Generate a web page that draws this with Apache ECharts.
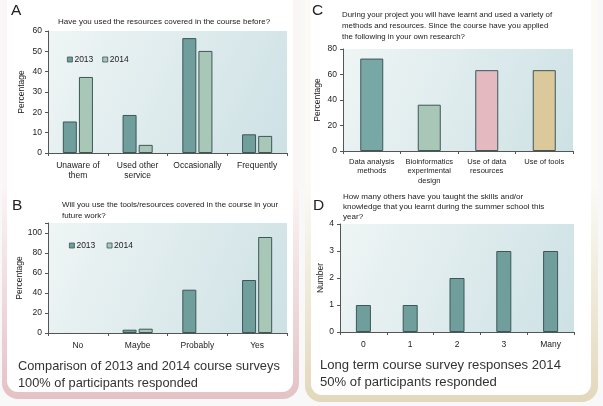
<!DOCTYPE html>
<html>
<head>
<meta charset="utf-8">
<script src="https://cdn.jsdelivr.net/npm/echarts@6/dist/echarts.min.js"></script>
<style>
html,body{margin:0;padding:0;background:#f8f8f8;}
#c{width:603px;height:406px;}
</style>
</head>
<body>
<div id="c"></div>
<script>
// Panel A
const catsA = ['Unaware of\nthem', 'Used other\nservice', 'Occasionally', 'Frequently'];
const a2013 = [15.5, 18.7, 56.5, 9.2];
const a2014 = [37.4, 4.0, 50.2, 8.4];
const ticksA = [0, 10, 20, 30, 40, 50, 60];
// Panel B
const catsB = ['No', 'Maybe', 'Probably', 'Yes'];
const b2013 = [0, 3.3, 43.3, 53];
const b2014 = [0, 4.3, 0, 96];
const ticksB = [0, 20, 40, 60, 80, 100];
// Panel C
const catsC = ['Data analysis\nmethods', 'Bioinformatics\nexperimental\ndesign', 'Use of data\nresources', 'Use of tools'];
const valsC = [72.5, 36.3, 63.4, 63.4];
const ticksC = [0, 20, 40, 60, 80];
// Panel D
const catsD = ['0', '1', '2', '3', 'Many'];
const valsD = [1, 1, 2, 3, 3];
const ticksD = [0, 1, 2, 3, 4];
const seriesNames = ['2013', '2014'];

const FONT = '"Liberation Sans", Arial, sans-serif';
const C13 = '#6f9e9c', C14 = '#a9c7b7', BORDER = '#3c5757';
const colorsC = ['#78a8a6', '#a9c7b7', '#e4b9c0', '#dcc99b'];

const bg = {type: 'linear', x: 0, y: 0, x2: 1, y2: 1, colorStops: [
  {offset: 0, color: '#eff5f5'}, {offset: 1, color: '#cde1e5'}]};

function grid(l, t, w, h) {
  return {left: l, top: t, width: w, height: h, show: true, borderWidth: 0, backgroundColor: bg, containLabel: false};
}
function xAx(gi, cats, fs, margin) {
  return {type: 'category', gridIndex: gi, data: cats,
    axisLine: {lineStyle: {color: '#555', width: 1}},
    axisTick: {show: true, alignWithLabel: false, length: 3, lineStyle: {color: '#555'}},
    axisLabel: {color: '#222', fontSize: fs, fontFamily: FONT, margin: margin, lineHeight: fs + 2, interval: 0}};
}
function yAx(gi, ticks, max, name, gap) {
  const interval = ticks[1] - ticks[0];
  return {type: 'value', gridIndex: gi, min: ticks[0], max: max, interval: interval,
    name: name, nameLocation: 'middle', nameGap: gap, nameRotate: 90,
    nameTextStyle: {color: '#222', fontSize: 8.5, fontFamily: FONT},
    splitLine: {show: false},
    axisLine: {show: true, lineStyle: {color: '#555', width: 1}},
    axisTick: {show: true, length: 3, lineStyle: {color: '#555'}},
    axisLabel: {color: '#222', fontSize: 8.5, fontFamily: FONT, margin: 6,
      formatter: v => (ticks.indexOf(v) >= 0 ? String(v) : '')}};
}
function bar(name, xi, data, color, width, gap) {
  return {type: 'bar', name: name, xAxisIndex: xi, yAxisIndex: xi,
    data: data.map(v => ({value: v, itemStyle: {borderWidth: v > 0 ? 1 : 0}})),
    barWidth: width, barGap: gap,
    itemStyle: {color: color, borderColor: BORDER, borderWidth: 1}};
}
function txt(x, y, s, fs, lh) {
  return {type: 'text', left: x, top: y, silent: true,
    style: {text: s, fontSize: fs, fontFamily: FONT, fill: '#222', lineHeight: lh || (fs + 3)}};
}
function panelGrad(top, bottom) {
  return {type: 'linear', x: 0, y: 0, x2: 0, y2: 1, colorStops: [
    {offset: 0, color: top}, {offset: 0.5, color: top}, {offset: 1, color: bottom}]};
}
function legendAt(names, l, t) {
  return {data: names, left: l, top: t, orient: 'horizontal', itemWidth: 5, itemHeight: 5, itemGap: 9,
    icon: 'rect', itemStyle: {borderColor: '#3c5757', borderWidth: 0.8},
    textStyle: {fontSize: 8.5, color: '#222', padding: [0, 0, 0, -3]}, selectedMode: false};
}

const chart = echarts.init(document.getElementById('c'), null, {renderer: 'canvas'});
chart.setOption({
  animation: false,
  backgroundColor: '#f8f8f8',
  textStyle: {fontFamily: FONT},
  graphic: [
    {type: 'rect', z: -10, shape: {x: 2, y: -30, width: 297, height: 429, r: 16},
      style: {fill: panelGrad('#fbf5f5', '#e4c2c6')}},
    {type: 'rect', z: -9, shape: {x: 7, y: -30, width: 286, height: 422, r: 11}, style: {fill: '#ffffff'}},
    {type: 'rect', z: -10, shape: {x: 305, y: -30, width: 293, height: 432, r: 16},
      style: {fill: panelGrad('#fbfaf5', '#e2d8bb')}},
    {type: 'rect', z: -9, shape: {x: 311, y: -30, width: 280, height: 425, r: 11}, style: {fill: '#ffffff'}},
    txt(11, 1, 'A', 15.5),
    txt(12, 196, 'B', 15.5),
    txt(312, 1, 'C', 15.5),
    txt(313, 196, 'D', 15.5),
    txt(58, 16, 'Have you used the resources covered in the course before?', 8),
    txt(62, 199, 'Will you use the tools/resources covered in the course in your\nfuture work?', 7.95, 11),
    txt(342, 10, 'During your project you will have learnt and used a variety of\nmethods and resources. Since the course have you applied\nthe following in your own research?', 7.85, 10.6),
    txt(343, 192, 'How many others have you taught the skills and/or\nknowledge that you learnt during the summer school this\nyear?', 8.05, 9.8),
    {type: 'text', left: 18, top: 358, silent: true,
      style: {text: 'Comparison of 2013 and 2014 course surveys\n100% of participants responded', fontSize: 12.8, fontFamily: FONT, fill: '#333', lineHeight: 17}},
    {type: 'text', left: 320, top: 357, silent: true,
      style: {text: 'Long term course survey responses 2014\n50% of participants responded', fontSize: 13.1, fontFamily: FONT, fill: '#333', lineHeight: 17}}
  ],
  legend: [
    legendAt(seriesNames, 62, 50),
    legendAt([seriesNames[0] + ' ', seriesNames[1] + ' '], 64, 236)
  ],
  grid: [grid(48, 31, 239, 122), grid(48, 223, 239, 110), grid(343, 49, 230, 102), grid(340, 224, 234, 108)],
  xAxis: [xAx(0, catsA, 8.5, 7), xAx(1, catsB, 8.5, 7), xAx(2, catsC, 7.6, 6), xAx(3, catsD, 8.5, 7)],
  yAxis: [yAx(0, ticksA, 60, 'Percentage', 22), yAx(1, ticksB, 110, 'Percentage', 24),
          yAx(2, ticksC, 80, 'Percentage', 21), yAx(3, ticksD, 4, 'Number', 14)],
  series: [
    bar(seriesNames[0], 0, a2013, C13, 14, '15%'),
    bar(seriesNames[1], 0, a2014, C14, 14, '15%'),
    bar(seriesNames[0] + ' ', 1, b2013, C13, 14, '15%'),
    bar(seriesNames[1] + ' ', 1, b2014, C14, 14, '15%'),
    {type: 'bar', name: 'C', xAxisIndex: 2, yAxisIndex: 2, barWidth: 23,
      data: valsC.map((v, i) => ({value: v, itemStyle: {color: colorsC[i]}})),
      itemStyle: {borderColor: BORDER, borderWidth: 1}},
    bar('D', 3, valsD, C13, 15, '15%')
  ]
});
</script>
</body>
</html>
